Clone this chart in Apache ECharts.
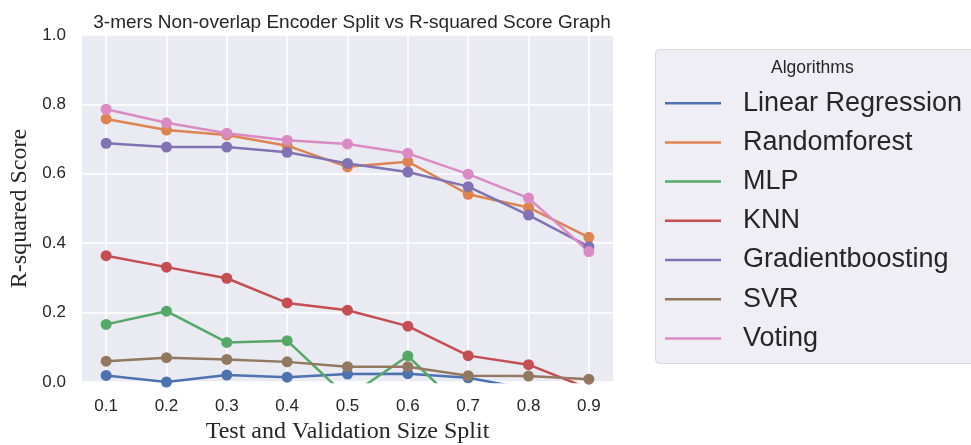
<!DOCTYPE html>
<html>
<head>
<meta charset="utf-8">
<script src="https://cdn.jsdelivr.net/npm/echarts@6/dist/echarts.min.js"></script>
<style>
html,body{margin:0;padding:0;background:#fff;}
#chart{width:971px;height:445px;}
</style>
</head>
<body>
<div id="chart"></div>
<script>
const splits = [0.1, 0.2, 0.3, 0.4, 0.5, 0.6, 0.7, 0.8, 0.9];
const yTicks = [0.0, 0.2, 0.4, 0.6, 0.8, 1.0];
const linearRegression = [0.019, 0.000, 0.020, 0.014, 0.023, 0.024, 0.012, -0.020, -0.050];
const randomforest = [0.758, 0.726, 0.712, 0.681, 0.620, 0.635, 0.541, 0.503, 0.417];
const mlp = [0.166, 0.204, 0.114, 0.119, -0.044, 0.075, -0.092, -0.120, -0.150];
const knn = [0.364, 0.331, 0.299, 0.228, 0.207, 0.161, 0.076, 0.050, -0.019];
const gradientboosting = [0.688, 0.677, 0.677, 0.662, 0.630, 0.605, 0.563, 0.481, 0.390];
const svr = [0.060, 0.070, 0.065, 0.058, 0.044, 0.044, 0.018, 0.017, 0.008];
const voting = [0.786, 0.747, 0.717, 0.697, 0.686, 0.659, 0.599, 0.530, 0.376];

const seriesNames = ['Linear Regression', 'Randomforest', 'MLP', 'KNN', 'Gradientboosting', 'SVR', 'Voting'];
const seriesData = [linearRegression, randomforest, mlp, knn, gradientboosting, svr, voting];
const colors = ['#4C72B0', '#DD8452', '#55A868', '#C44E52', '#8172B3', '#937860', '#DA8BC3'];

const chart = echarts.init(document.getElementById('chart'), null, {renderer: 'canvas'});

const series = seriesNames.map((name, i) => ({
  name: name,
  type: 'line',
  data: splits.map((s, j) => [s, seriesData[i][j]]),
  symbol: 'circle',
  symbolSize: 11,
  clip: true,
  lineStyle: {width: 2.5, color: colors[i]},
  itemStyle: {color: colors[i]},
  emphasis: {disabled: true},
  animation: false
}));

chart.setOption({
  animation: false,
  backgroundColor: '#ffffff',
  title: {
    text: '3-mers Non-overlap Encoder Split vs R-squared Score Graph',
    left: 347, top: 8, textAlign: 'center',
    textStyle: {fontFamily: 'Liberation Sans', fontSize: 19, fontWeight: 'normal', color: '#262626'}
  },
  graphic: [
    {type: 'rect', left: 655, top: 49, z: -1,
     shape: {width: 330, height: 314, r: 4},
     style: {fill: '#EEEEF4', stroke: '#D8D8DE', lineWidth: 1}},
    {type: 'text', left: 771, top: 59,
     style: {text: 'Algorithms', fontFamily: 'Liberation Sans', fontSize: 17.5, fill: '#262626'}}
  ],
  legend: {
    orient: 'vertical',
    left: 665, top: 89.7,
    padding: 0,
    icon: 'rect',
    itemWidth: 56, itemHeight: 2.5,
    itemGap: 12.2,
    textStyle: {fontFamily: 'Liberation Sans', fontSize: 27, lineHeight: 27, color: '#262626', padding: [0, 0, 0, 17]},
    data: seriesNames
  },
  grid: {left: 82, right: 358, top: 35, bottom: 63, show: true, backgroundColor: '#EAEAF2', borderWidth: 0,
    outerBoundsMode: 'none', containLabel: false},
  xAxis: {
    type: 'value', min: 0.06, max: 0.94,
    name: 'Test and Validation Size Split', nameLocation: 'middle', nameGap: 37,
    nameTextStyle: {fontFamily: 'Liberation Serif', fontSize: 24, color: '#262626'},
    axisLine: {show: false}, axisTick: {show: false, customValues: splits},
    axisLabel: {customValues: splits, formatter: v => v.toFixed(1), margin: 16,
      fontFamily: 'Liberation Sans', fontSize: 17, color: '#262626'},
    splitLine: {show: true, lineStyle: {color: '#ffffff', width: 1.5}}
  },
  yAxis: {
    type: 'value', min: 0, max: 1, interval: 0.2,
    name: 'R-squared Score', nameLocation: 'middle', nameGap: 48,
    nameTextStyle: {fontFamily: 'Liberation Serif', fontSize: 24, color: '#262626'},
    axisLine: {show: false}, axisTick: {show: false},
    axisLabel: {formatter: v => v.toFixed(1), margin: 16,
      fontFamily: 'Liberation Sans', fontSize: 17, color: '#262626'},
    splitLine: {show: true, lineStyle: {color: '#ffffff', width: 1.5}}
  },
  series: series
});
</script>
</body>
</html>
